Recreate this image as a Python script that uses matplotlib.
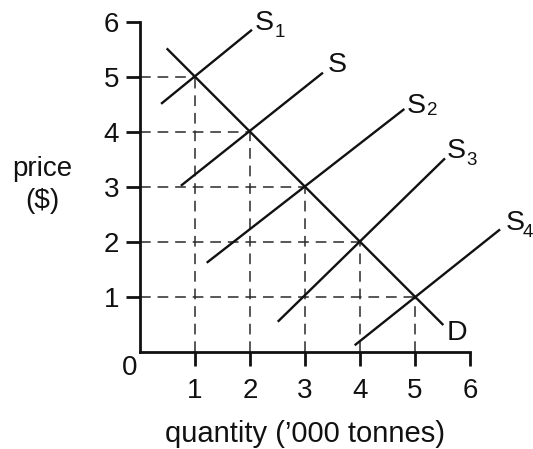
"""
Supply shifts against a fixed demand curve, with dashed guides to each equilibrium
"""
import matplotlib
matplotlib.use("Agg")
import matplotlib.pyplot as plt

plt.rcParams["font.family"] = ["Liberation Sans", "DejaVu Sans"]

# demand curve end points (quantity, price)
demand_q = [0.5, 5.5]
demand_p = [5.5, 0.5]

# supply curves, end points
supply_names = ["S1", "S", "S2", "S3", "S4"]
supply_q = [[0.40, 2.02], [0.76, 3.31], [1.23, 4.79], [2.52, 5.53], [3.92, 6.53]]
supply_p = [[4.52, 5.84], [3.03, 5.06], [1.63, 4.40], [0.56, 3.50], [0.13, 2.21]]

# equilibrium points
eq_q = [1, 2, 3, 4, 5]
eq_p = [5, 4, 3, 2, 1]

ticks = [1, 2, 3, 4, 5, 6]

INK = "#111111"
DASH = "#2a2a2a"


def main() -> None:
    fig = plt.figure(figsize=(5.33, 4.49), dpi=100)
    ax = fig.add_axes([140 / 533, (449 - 351.7) / 449, 330 / 533, 330 / 449])

    ax.set_xlim(0, 6)
    ax.set_ylim(0, 6)
    for side in ("top", "right"):
        ax.spines[side].set_visible(False)
    for side in ("left", "bottom"):
        ax.spines[side].set_linewidth(2.0)
        ax.spines[side].set_color(INK)

    ax.set_xticks(ticks)
    ax.set_yticks(ticks)
    ax.tick_params(axis="both", length=10, width=2.0, color=INK,
                   labelsize=20, labelcolor=INK, direction="out")
    ax.tick_params(axis="x", pad=9)
    ax.tick_params(axis="y", pad=5)

    # dashed guides
    for q, p in zip(eq_q, eq_p):
        kw = {"color": DASH, "lw": 1.1, "ls": (0, (7, 4.5)), "zorder": 1}
        ax.plot([0, q], [p, p], **kw)
        ax.plot([q, q], [0, p], **kw)

    ax.plot(demand_q, demand_p, color=INK, lw=1.7, clip_on=False, zorder=3)
    for q, p in zip(supply_q, supply_p):
        ax.plot(q, p, color=INK, lw=1.7, clip_on=False, zorder=3)

    # curve labels
    lab = {"fontsize": 20.5, "color": INK, "ha": "left", "va": "baseline"}
    sub = {"fontsize": 13.5, "color": INK, "ha": "left", "va": "baseline"}
    ax.text(2.09, 5.85, "S", **lab)
    ax.text(2.45, 5.72, "1", **sub)
    ax.text(3.42, 5.085, "S", **lab)
    ax.text(4.85, 4.34, "S", **lab)
    ax.text(5.21, 4.30, "2", **sub)
    ax.text(5.58, 3.52, "S", **lab)
    ax.text(5.94, 3.39, "3", **sub)
    ax.text(6.64, 2.21, "S", **lab)
    ax.text(6.96, 2.09, "4", **sub)
    ax.text(5.58, 0.21, "D", **lab)

    ax.text(-0.18, -0.30, "0", fontsize=20, color=INK, ha="center", va="center")
    ax.text(-1.78, 3.03, "price\n($)", fontsize=20, color=INK,
            ha="center", va="center", multialignment="center", linespacing=1.3)
    ax.text(3.0, -1.5, "quantity (\u2019000 tonnes)", fontsize=21, color=INK,
            ha="center", va="center")

    fig.savefig("out.png", dpi=100)


if __name__ == "__main__":
    main()
